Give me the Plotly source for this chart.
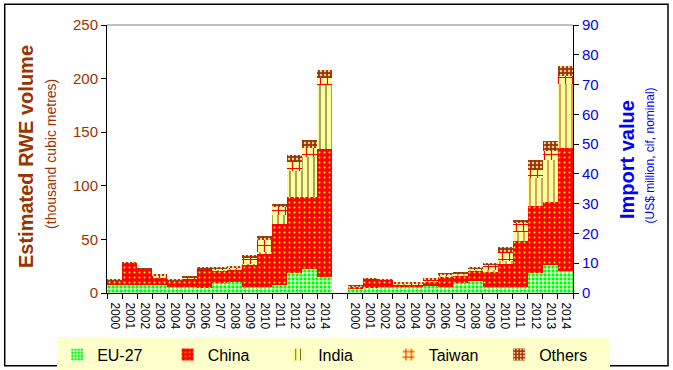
import plotly.graph_objects as go

years = [str(y) for y in range(2000, 2015)]

# Estimated RWE volume (thousand cubic metres)
vol_eu = [7.5, 7.5, 7.5, 7.5, 6.0, 6.0, 4.5, 9.3, 9.8, 5.6, 5.6, 7.8, 18.3, 22.7, 15.2]
vol_china = [4.0, 20.5, 14.0, 6.5, 5.3, 7.3, 18.0, 11.7, 11.9, 21.4, 31.4, 56.7, 70.8, 66.4, 119.4]
vol_india = [0, 0, 0.3, 0.8, 0, 0.5, 0, 1.0, 1.5, 0.5, 1.5, 8.7, 24.6, 37.7, 59.2]
vol_taiwan = [0.3, 0, 0.3, 1.2, 0.2, 1.0, 0.3, 1.2, 1.0, 5.0, 10.6, 6.8, 8.8, 8.4, 7.2]
vol_others = [0.7, 0.5, 0.8, 1.2, 0.8, 1.2, 0.9, 1.3, 1.3, 2.7, 3.8, 3.2, 6.5, 7.2, 6.8]

# Import value (US$ million, cif, nominal)
val_eu = [1.4, 1.8, 2.1, 2.1, 2.1, 2.5, 1.85, 3.3, 4.1, 1.85, 1.9, 2.1, 6.6, 9.5, 7.5]
val_china = [0.7, 3.1, 2.4, 0.9, 0.9, 1.4, 3.7, 2.7, 3.4, 5.4, 7.9, 15.4, 22.7, 21.2, 41.3]
val_india = [0, 0, 0, 0.1, 0, 0.4, 0.4, 0.5, 0.3, 0.5, 0.8, 3.1, 9.4, 13.8, 21.3]
val_taiwan = [0.1, 0, 0, 0.2, 0.2, 0.2, 0.2, 0.2, 0.5, 1.8, 3.1, 2.8, 2.7, 3.2, 2.7]
val_others = [0.2, 0.1, 0.1, 0.3, 0.3, 0.5, 0.4, 0.4, 0.5, 0.3, 1.6, 1.2, 3.1, 3.2, 3.4]

series_names = ["EU-27", "China", "India", "Taiwan", "Others"]

# slot positions: left group, one empty slot, right group
n = len(years)
pos_left = list(range(n))
pos_right = [n + 1 + i for i in range(n)]
boundaries = sorted(set([p - 0.5 for p in pos_left + pos_right] + [p + 0.5 for p in pos_left + pos_right]))

FONT = "Arial, Liberation Sans, sans-serif"
BROWN = "#993300"
BLUE = "#0000FF"

styles = {
    "EU-27": dict(shape=".", bgcolor="#FFFFFF", fgcolor="#00FF00", size=4, solidity=0.6, fillmode="replace"),
    "China": dict(shape=".", bgcolor="#FF0000", fgcolor="#FFFF00", size=5, solidity=0.12, fillmode="replace"),
    "India": dict(shape="|", bgcolor="#FFFF99", fgcolor="#000000", size=6, solidity=0.12, fillmode="replace"),
    "Taiwan": dict(shape="+", bgcolor="#FFFF99", fgcolor="#FF0000", size=7, solidity=0.3, fillmode="replace"),
    "Others": dict(shape=".", bgcolor="#993300", fgcolor="#FFCC99", size=4, solidity=0.3, fillmode="replace"),
}

fig = go.Figure()

left_vals = [vol_eu, vol_china, vol_india, vol_taiwan, vol_others]
right_vals = [val_eu, val_china, val_india, val_taiwan, val_others]

for name, vals in zip(series_names, left_vals):
    st = styles[name]
    fig.add_trace(go.Bar(
        x=pos_left, y=vals, name=name, legendgroup=name, showlegend=True,
        marker=dict(color=st["bgcolor"], line=dict(width=0), pattern=st),
        xaxis="x", yaxis="y", width=1.0,
    ))

for name, vals in zip(series_names, right_vals):
    st = dict(styles[name])
    if name == "India":
        st["fgcolor"] = "#800000"
    fig.add_trace(go.Bar(
        x=pos_right, y=vals, name=name, legendgroup=name, showlegend=False,
        marker=dict(color=st["bgcolor"], line=dict(width=0), pattern=st),
        xaxis="x2", yaxis="y2", width=1.0,
    ))

xr = [-0.5, pos_right[-1] + 0.5]

fig.update_layout(
    width=673, height=370,
    margin=dict(l=107, r=100, t=25, b=77, autoexpand=False),
    paper_bgcolor="white", plot_bgcolor="white",
    barmode="stack", bargap=0,
    font=dict(family=FONT, size=12, color="black"),
    xaxis=dict(
        range=xr, tickmode="array", tickvals=boundaries, showticklabels=False,
        ticks="outside", ticklen=5, tickcolor="black", tickwidth=1,
        showline=True, linecolor="black", linewidth=1, showgrid=False, zeroline=False,
        anchor="y",
    ),
    xaxis2=dict(
        range=xr, overlaying="x", anchor="y2", side="bottom",
        tickmode="array", tickvals=pos_left + pos_right, ticktext=years + years,
        tickangle=90, ticks="outside", ticklen=6, tickcolor="rgba(0,0,0,0)",
        tickfont=dict(family=FONT, size=12, color="black"),
        showline=False, showgrid=False, zeroline=False,
    ),
    yaxis=dict(
        range=[0, 250], dtick=50, ticks="outside", ticklen=5, tickcolor="black",
        showline=True, linecolor="black", linewidth=1, showgrid=False, zeroline=False,
        tickfont=dict(family=FONT, size=15, color=BROWN),
    ),
    yaxis2=dict(
        range=[0, 90], dtick=10, overlaying="y", side="right", anchor="x2",
        ticks="outside", ticklen=5, tickcolor="black",
        showline=True, linecolor="black", linewidth=1, showgrid=False, zeroline=False,
        tickfont=dict(family=FONT, size=15, color=BLUE),
    ),
    legend=dict(
        orientation="h", x=-0.107, xanchor="left", y=-0.166, yanchor="top",
        bgcolor="#FFFFCC", borderwidth=0, entrywidth=65.5,
        font=dict(family=FONT, size=16, color="black"),
        traceorder="normal",
    ),
    shapes=[
        dict(type="line", xref="paper", yref="paper", x0=0, x1=1, y0=1, y1=1,
             line=dict(color="#808080", width=1)),
        dict(type="rect", xref="paper", yref="paper", x0=-0.2195, x1=1.2039, y0=-0.2715, y1=1.077,
             line=dict(color="black", width=1.5), fillcolor="rgba(0,0,0,0)", layer="above"),
    ],
    annotations=[
        dict(text="<b>Estimated RWE volume</b>", xref="paper", yref="paper", x=-0.1738, y=0.5075,
             xanchor="center", yanchor="middle",
             textangle=-90, showarrow=False, font=dict(family=FONT, size=20, color=BROWN)),
        dict(text="(thousand cubic metres)", xref="paper", yref="paper", x=-0.1202, y=0.519,
             xanchor="center", yanchor="middle",
             textangle=-90, showarrow=False, font=dict(family=FONT, size=14, color=BROWN)),
        dict(text="<b>Import value</b>", xref="paper", yref="paper", x=1.1159, y=0.496,
             xanchor="center", yanchor="middle",
             textangle=-90, showarrow=False, font=dict(family=FONT, size=20, color=BLUE)),
        dict(text="(US$ million, cif, nominal)", xref="paper", yref="paper", x=1.1652, y=0.513,
             xanchor="center", yanchor="middle",
             textangle=-90, showarrow=False, font=dict(family=FONT, size=12, color=BLUE)),
    ],
)

fig.write_html(
    "out.html",
    config={"displayModeBar": False},
    post_script="document.body.style.margin='0';document.body.style.padding='0';document.body.style.overflow='hidden';",
)
